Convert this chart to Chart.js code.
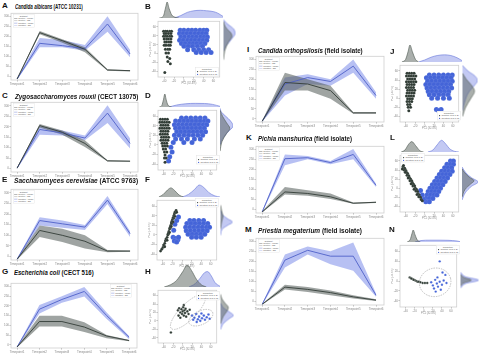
<!DOCTYPE html>
<html><head><meta charset="utf-8">
<script src="https://cdn.jsdelivr.net/npm/chart.js"></script>
<style>
body{margin:0;background:#fff}
#fig{position:relative;width:480px;height:359px;overflow:hidden;background:#fff;font-family:'Liberation Sans',Arial,sans-serif;color:#111}
.lab{position:absolute;font-weight:bold;font-size:8px;line-height:8px}
.ttl{position:absolute;font-weight:bold;font-size:7px;line-height:7px;white-space:nowrap;transform-origin:0 50%}
.leg{position:absolute;background:#fff;border:1px solid #ddd;font-size:6px;line-height:6.4px;color:#555;padding:1px 2px;white-space:nowrap;transform-origin:0 0}
canvas{position:absolute}
</style></head>
<body><div id="fig"></div>
<script>
// ---------- DATA ----------
const xLabels = ['Timepoint1','Timepoint2','Timepoint3','Timepoint4','Timepoint5','Timepoint6'];
const lineYTicks = [5,20,35,50,65,80,95];
const lineYLabels = ['0','50','100','150','200','250','300'];
const lineLegend = ['Dataset','Control - Mean','Control - SD','Treated - Mean','Treated - SD'];
const scatterLegend = ['Condition','Control (PC 1-2)','Treated (PC 1-2)'];
const scatterTicks = [10,26,42,58,74,90];
const scatterTickLabels = ['-40','-20','0','20','40','60'];

// Panel A  Candida albicans
const aGrayMean=[1.5,71,59,46,15,14], aGrayHi=[2.5,73.5,61,49,16,14.7], aGrayLo=[0.5,68.7,56,41.6,13.7,12.8];
const aBlueMean=[1.5,55,51.5,47,84,39], aBlueHi=[2.5,62.8,60,52.5,95.6,45], aBlueLo=[0.5,49,49,44,72.5,34];
// Panel C  Zygosaccharomyces rouxii
const cGrayMean=[5.6,66.6,57,41,16,15.5], cGrayHi=[6.5,69,59.6,45.5,17,16.3], cGrayLo=[4.7,64,53.5,36,15,14.7];
const cBlueMean=[5.6,61,56,48.7,84.5,41], cBlueHi=[6.5,65.6,59.6,52.5,95.8,48], cBlueLo=[4.7,53.5,52.5,45.5,70.4,33.8];
// Panel E  Saccharomyces cerevisiae
const eGrayMean=[1,41.8,34.9,26.5,12.6,12.6], eGrayHi=[2,48.8,44.2,34.9,14,13.5], eGrayLo=[0.5,32.5,25.5,16.3,11,11.6];
const eBlueMean=[1,55.8,51.2,46.5,84.7,37.2], eBlueHi=[2,60.5,55.8,49.4,90.7,40.5], eBlueLo=[0.5,48.8,45.6,42.4,79.1,32.5];
// Panel G  Escherichia coli
const gGrayMean=[1.5,40.9,40.9,32.4,18.5,11.5], gGrayHi=[2.5,49.9,49.9,39.9,20,12.5], gGrayLo=[0.8,33.4,33.4,24.9,15,10.5];
const gBlueMean=[1.5,60,75,87.4,50,16.5], gBlueHi=[2.5,66.4,80,94.4,55,18.5], gBlueLo=[0.8,53.4,70,79.5,45,13.5];
// Panel I  Candida orthopsilosis
const iGrayMean=[1,60.1,57.8,47.8,13.9,13.9], iGrayHi=[2,75,65,55.2,15,15], iGrayLo=[0.5,47.8,47.8,35.4,12.5,12.5];
const iBlueMean=[1,57.8,67.6,61.7,85,40.3], iBlueHi=[2,67.6,72.6,65,95,45.2], iBlueLo=[0.5,40.3,57.8,55.2,75,35.4];
// Panel K  Pichia manshurica
const kGrayMean=[1.5,31.6,29.3,24.3,14.6,16.1], kGrayHi=[2.5,39,34.2,29.3,15.6,17], kGrayLo=[0.8,27.8,25.8,21,13.7,15];
const kBlueMean=[1.5,81.4,82.9,75.6,87.8,41.5], kBlueHi=[2.5,87.8,85.4,78,96,44], kBlueLo=[0.8,71.7,80.5,73.2,80.5,39];
// Panel M  Priestia megaterium
const mGrayMean=[1,26.8,23.4,18.6,12.2,7.3], mGrayHi=[2,30.3,26.8,21.9,14.6,8.8], mGrayLo=[0.5,23.4,19.5,14.6,9.8,5.9];
const mBlueMean=[1,67.3,82,73.2,73.2,14.6], mBlueHi=[2,75.6,87.8,80.5,93.7,17.1], mBlueLo=[0.5,56.1,75.6,61,51.2,12.2];

// Scatter clouds: rows are [y, [x values]]; pairs are [x, y]
function rows(r){const o=[];r.forEach(([y,xs])=>xs.forEach(x=>o.push([x,y])));return o;}
const bGray = rows([[82,[9,12,15,19,22]],[78,[10,13,17,21]],[73,[9,12,15,19,22]],[68,[10,14,17,21]],[63,[11,14,18,21]],[57,[10,13,17,20]],[50,[12,16,19]],[43,[13,17]],[36,[15]],[33,[19]],[28,[16]],[24,[20]],[8,[11]]]);
const bBlue = rows([[84,[36,42,49,55,61,68,74,79]],[78,[35,41,47,53,60,66,72,78]],[72,[37,43,50,56,62,69,75,80]],[66,[35,41,48,54,60,67,73,79]],[60,[38,44,51,57,63,70,76]],[55,[42,49,56,64,72]],[49,[48,58,66,74,82]],[44,[62,70,78,86]]]);
const dGray = rows([[85,[4,8,12,16]],[80,[3,7,11,15,19]],[75,[5,9,13,17]],[70,[3,7,11,15,19]],[65,[5,9,13,17]],[60,[4,8,12,16]],[55,[6,10,14,18]],[50,[5,9,13,17]],[45,[7,11,15]],[40,[8,12,16]],[35,[9,13]],[30,[11,15]],[25,[12]],[20,[11,14]],[13,[12]]]);
const dBlue = rows([[87,[40,48,56,64,72,80]],[82,[30,37,44,51,58,65,72,79,85]],[76,[28,35,42,49,56,63,70,77,83]],[70,[30,37,44,51,58,65,72,79]],[64,[32,39,46,53,60,67,74,81]],[58,[28,36,44,52,60,68,76]],[52,[30,40,50,62,72]],[46,[26,44,58]],[38,[22]],[30,[24]],[22,[20]],[15,[18]]]);
const fGray = [[6,15],[8,18],[10,21],[12,24],[11,25],[13,28],[14,32],[16,34],[15,35],[17,38],[19,43],[18,42],[19,45],[20,48],[22,53],[21,52],[22,55],[23,58],[25,61],[24,62],[25,65],[26,68],[28,70],[27,71],[28,74],[29,77],[31,79],[30,80],[32,83],[13,22],[17,33],[21,46],[24,56],[27,64],[30,73],[33,80]];
const fBlue = rows([[66,[55,62,70,78]],[61,[50,57,64,71,78,85]],[55,[48,55,62,69,76,83,88]],[49,[49,56,63,70,77,84]],[43,[52,59,66,73,80]],[38,[58,66,74]]]).concat([[27,38],[31,36],[35,34],[29,32],[33,30],[36,38],[30,60],[33,66],[36,72],[28,50]]);
const hGray = [[34,62],[36,66],[38,58],[40,64],[41,55],[42,60],[43,68],[44,52],[45,62],[46,57],[47,65],[48,50],[50,60],[52,55],[38,48],[54,63],[22,20],[35,52],[44,72]];
const hBlue = [[58,52],[62,48],[65,55],[68,45],[70,50],[72,42],[75,47],[78,52],[80,44],[83,49],[86,54],[88,46],[66,40],[74,56],[60,44]];
const hEllipses = [[51,59,40,15,45],[73,48,22,13,25]];
const jGray = rows([[86,[12,16,20,24]],[81,[11,15,19,23,27]],[76,[13,17,21,25]],[71,[11,15,19,23,27]],[66,[12,16,20,24]],[61,[11,15,19,23]],[56,[13,17,21,25]],[51,[12,16,20,24]],[46,[11,15,19,23]],[41,[13,17,21]],[36,[12,16,20]],[31,[13,17]],[26,[14,18]],[20,[15]]]);
const jBlue = rows([[83,[50,58,66,74,82,89]],[78,[45,52,59,66,73,80,87]],[72,[47,54,61,68,75,82,89]],[66,[44,51,58,65,72,79,86]],[60,[46,53,60,67,74,81,88]],[54,[48,55,62,69,76,83]],[48,[50,58,66,74,82]],[42,[54,64,74,84]],[22,[62,70]],[20,[66]]]);
const lGray = [[5,80],[8,77],[7,74],[10,73],[11,70],[13,68],[12,65],[15,64],[16,61],[18,58],[17,55],[20,55],[21,52],[23,49],[22,46],[25,46],[26,42],[28,40],[27,37],[30,36],[31,32],[33,30],[32,27],[35,26],[36,22],[38,20],[9,70],[14,60],[19,50],[24,40],[29,31],[4,76],[6,82]];
const lBlue = rows([[90,[86,91]],[84,[80,86,91]],[78,[76,82,88]],[72,[71,77,83,89]],[66,[67,73,79,85]],[60,[63,69,75,81]],[54,[59,65,71,77]],[48,[55,61,67,73]],[42,[51,57,63,69]],[36,[48,54,60,66]],[30,[46,52,58,63]],[24,[44,50,56]],[18,[44,50]]]).concat([[38,30],[35,38],[40,22]]);
const nGray = [[17,48],[19,47],[21,46],[23,45],[25,44],[27,43],[29,42],[31,41],[33,41],[36,40],[40,39],[44,39],[48,39],[20,46],[24,44]];
const nBlue = [[55,40],[58,35],[60,30],[62,44],[65,38],[67,33],[70,41],[72,28],[74,36],[77,43],[80,52],[82,39],[63,25],[70,74],[75,56],[66,48]];
const nEllipses = [[62,40,28,23,15]];

// Marginal KDEs: [position, density]
const bTopGray=[[2,0],[8,10],[12,70],[14,100],[17,60],[21,20],[26,5],[32,0]], bTopBlue=[[25,0],[35,15],[45,35],[55,45],[65,48],[75,45],[85,40],[92,30],[100,10]];
const bRightGray=[[30,0],[45,10],[60,40],[70,70],[76,60],[82,30],[88,10],[95,0]], bRightBlue=[[45,0],[52,15],[58,40],[66,70],[74,95],[82,85],[88,50],[93,20],[98,0]];
const dTopGray=[[2,0],[6,10],[9,60],[11,100],[13,60],[16,15],[22,0]], dTopBlue=[[18,0],[30,15],[45,25],[60,28],[75,27],[88,20],[100,5]];
const dRightGray=[[30,0],[45,15],[58,50],[66,75],[75,50],[85,20],[95,0]], dRightBlue=[[40,0],[50,20],[60,60],[70,100],[78,80],[86,40],[92,10],[98,0]];
const fTopGray=[[3,0],[10,20],[17,55],[22,70],[28,50],[35,15],[42,0]], fTopBlue=[[40,0],[50,20],[60,60],[67,92],[74,75],[82,35],[92,8],[100,0]];
const fRightGray=[[50,0],[62,10],[70,20],[78,10],[88,0]], fRightBlue=[[40,0],[50,15],[56,60],[61,100],[66,60],[72,20],[80,0]];
const hTopGray=[[10,0],[20,10],[30,30],[40,70],[47,100],[54,75],[62,35],[70,10],[78,0]], hTopBlue=[[50,0],[60,15],[68,40],[75,65],[80,70],[86,50],[92,20],[100,3]];
const hRightGray=[[35,0],[48,20],[58,50],[64,60],[72,35],[80,10],[88,0]], hRightBlue=[[25,0],[35,20],[45,70],[50,100],[56,70],[63,25],[72,0]];
const jTopGray=[[3,0],[9,15],[13,60],[16,100],[20,60],[25,15],[30,0]], jTopBlue=[[30,0],[40,12],[50,28],[60,38],[72,42],[82,38],[92,25],[100,8]];
const jRightGray=[[10,0],[25,20],[40,55],[52,80],[62,60],[72,25],[82,0]], jRightBlue=[[20,0],[35,15],[50,40],[62,80],[70,100],[78,80],[85,40],[95,0]];
const lTopGray=[[2,0],[8,15],[14,60],[19,80],[25,50],[32,10],[38,0]], lTopBlue=[[45,0],[53,15],[60,55],[67,90],[74,60],[80,25],[88,5],[95,0]];
const lRightGray=[[25,0],[38,20],[47,55],[52,75],[58,45],[66,15],[72,0]], lRightBlue=[[20,0],[32,20],[43,60],[50,100],[57,60],[65,25],[75,0]];
const nTopGray=[[12,0],[17,20],[20,70],[22,100],[25,60],[29,15],[34,0]], nTopBlue=[[25,0],[35,12],[50,15],[65,15],[80,14],[95,8],[100,3]];
const nRightGray=[[33,0],[38,20],[42,60],[46,20],[51,0]], nRightBlue=[[30,0],[37,30],[42,100],[47,30],[54,0]];

// ---------- RENDER ----------
const fig=document.getElementById('fig');
const tickFont={size:3,family:'Liberation Sans'};
function cv(x,y,w,h){const c=document.createElement('canvas');c.width=w;c.height=h;c.style.left=x+'px';c.style.top=y+'px';c.style.width=w+'px';c.style.height=h+'px';fig.appendChild(c);return c;}
const boxPlugin={id:'box',afterDraw(ch){const a=ch.chartArea,c=ch.ctx;c.save();c.strokeStyle='#cfcfcf';c.lineWidth=0.8;c.strokeRect(a.left,a.top,a.right-a.left,a.bottom-a.top);c.restore();}};
const ellPlugin={id:'ell',afterDatasetsDraw(ch,args,opts){if(!opts||!opts.list)return;const c=ch.ctx,xs=ch.scales.x,ys=ch.scales.y;c.save();c.setLineDash([1.5,1]);c.strokeStyle='#9a9a9a';c.lineWidth=0.6;
 opts.list.forEach(([cx,cy,rx,ry,ang])=>{const px=xs.getPixelForValue(cx),py=ys.getPixelForValue(cy);const sx=Math.abs(xs.getPixelForValue(rx)-xs.getPixelForValue(0));const sy=Math.abs(ys.getPixelForValue(ry)-ys.getPixelForValue(0));c.beginPath();c.ellipse(px,py,sx,sy,-ang*Math.PI/180,0,Math.PI*2);c.stroke();});c.restore();}};
const base={responsive:false,animation:false,events:[],plugins:{legend:{display:false},tooltip:{enabled:false}}};
const T='rgba(0,0,0,0)';

function lineChart(box,g,b){
 const [bx,by,bw,bh]=box,L=7,B=6;
 const c=cv(bx-L,by-1,bw+L+1,bh+B+1);
 const P=a=>a.map((v,i)=>({x:i,y:v}));
 new Chart(c,{type:'line',data:{datasets:[
  {data:P(g.hi),fill:'+1',backgroundColor:'rgba(80,90,85,0.55)',borderColor:T,borderWidth:0.1,pointRadius:0,order:2},
  {data:P(g.lo),fill:false,borderColor:T,borderWidth:0.1,pointRadius:0,order:2},
  {data:P(b.hi),fill:'+1',backgroundColor:'rgba(96,116,228,0.45)',borderColor:T,borderWidth:0.1,pointRadius:0,order:3},
  {data:P(b.lo),fill:false,borderColor:T,borderWidth:0.1,pointRadius:0,order:3},
  {data:P(b.mean),borderColor:'#4f61c8',borderWidth:0.9,pointRadius:0,fill:false,order:1},
  {data:P(g.mean),borderColor:'#333d38',borderWidth:0.9,pointRadius:0,fill:false,order:0}
 ]},plugins:[boxPlugin],options:{...base,layout:{padding:{top:1,right:1,left:0,bottom:0}},scales:{
  x:{type:'linear',min:-0.27,max:5.35,afterBuildTicks:s=>{s.ticks=xLabels.map((_,i)=>({value:i}));},
     ticks:{callback:v=>xLabels[v]||'',font:tickFont,color:'#888',maxRotation:0,autoSkip:false,padding:0.5},
     grid:{drawOnChartArea:false,tickLength:1.5,color:'#bbb'},border:{display:false},afterFit:s=>{s.height=B;}},
  y:{min:0,max:100,afterBuildTicks:s=>{s.ticks=lineYTicks.map(v=>({value:v}));},
     ticks:{callback:(v,i)=>lineYLabels[i],font:tickFont,color:'#888',padding:0.5},
     grid:{drawOnChartArea:false,tickLength:1.5,color:'#bbb'},border:{display:false},afterFit:s=>{s.width=L;}}
 }}});
}

function scatterChart(box,gray,blue,rg,rb,ell,edge){
 const [bx,by,bw,bh]=box,L=9,B=8;
 const c=cv(bx-L,by-1,bw+L+1,bh+B+1);
 const P=a=>a.map(([x,y])=>({x,y}));
 const ec=edge?'rgba(255,255,255,0.7)':'rgba(255,255,255,0.25)';
 new Chart(c,{type:'scatter',data:{datasets:[
  {data:P(gray),backgroundColor:'#2e3a33',borderColor:ec,borderWidth:0.3,pointRadius:rg,order:1},
  {data:P(blue),backgroundColor:'#4464d8',borderColor:ec,borderWidth:0.3,pointRadius:rb,order:2}
 ]},plugins:[boxPlugin,ellPlugin],options:{...base,plugins:{...base.plugins,ell:{list:ell}},layout:{padding:{top:1,right:1}},scales:{
  x:{min:0,max:100,afterBuildTicks:s=>{s.ticks=scatterTicks.map(v=>({value:v}));},
     ticks:{callback:(v,i)=>scatterTickLabels[i],font:tickFont,color:'#888',maxRotation:0,autoSkip:false,padding:0.5},
     title:{display:true,text:'PC1 (32.4%)',font:{size:2.6},color:'#888',padding:0},
     grid:{drawOnChartArea:false,tickLength:1.5,color:'#bbb'},border:{display:false},afterFit:s=>{s.height=B;}},
  y:{min:0,max:100,afterBuildTicks:s=>{s.ticks=scatterTicks.map(v=>({value:v}));},
     ticks:{callback:(v,i)=>scatterTickLabels[i],font:tickFont,color:'#888',padding:0.5},
     title:{display:true,text:'PC2 (18.7%)',font:{size:2.6},color:'#888',padding:0},
     grid:{drawOnChartArea:false,tickLength:1.5,color:'#bbb'},border:{display:false},afterFit:s=>{s.width=L;}}
 }}});
}

// marginal density: drawn horizontally; the right-hand ones are rotated 90deg with a reversed position axis
function marg(x,y,w,h,gray,blue,vertical){
 let c;
 if(!vertical){c=cv(x,y,w,h);}
 else{const cx=x+w/2,cy=y+h/2;c=cv(cx-h/2,cy-w/2,h,w);c.style.transform='rotate(90deg)';}
 const conv=([p,d])=>({x:p,y:d});
 new Chart(c,{type:'line',data:{datasets:[
  {data:gray.map(conv),fill:'origin',cubicInterpolationMode:'monotone',pointRadius:0,borderColor:'#5b655f',borderWidth:0.7,backgroundColor:'rgba(85,95,90,0.5)',order:1},
  {data:blue.map(conv),fill:'origin',cubicInterpolationMode:'monotone',pointRadius:0,borderColor:'#7684de',borderWidth:0.7,backgroundColor:'rgba(112,127,226,0.42)',order:2}
 ]},options:{...base,layout:{padding:0},scales:{x:{type:'linear',display:false,min:0,max:100,reverse:!!vertical},y:{display:false,min:0,max:100}}}});
}

function label(t,x,y){const d=document.createElement('div');d.className='lab';d.textContent=t;d.style.left=x+'px';d.style.top=(y-4)+'px';fig.appendChild(d);}
function title(it,rest,x,y,w){const d=document.createElement('div');d.className='ttl';d.innerHTML='<i>'+it+'</i> '+rest;d.style.left=x+'px';d.style.top=(y-3.5)+'px';fig.appendChild(d);d.style.transform='scaleX('+(w/d.offsetWidth)+')';}
function legendBox(items,colors,mark,x,y,s){const d=document.createElement('div');d.className='leg';d.style.left=x+'px';d.style.top=y+'px';
 let h='<div style="text-align:center">'+items[0]+'</div>';
 for(let i=1;i<items.length;i++){const m=mark==='line'?`<span style="display:inline-block;width:9px;height:0;border-top:1.2px solid ${colors[i-1]};vertical-align:middle;margin-right:2px"></span>`:`<span style="display:inline-block;width:3px;height:3px;border-radius:50%;background:${colors[i-1]};vertical-align:middle;margin:0 3px 0 2px"></span>`;h+='<div>'+m+items[i]+'</div>';}
 d.innerHTML=h;d.style.transform='scale('+s+')';fig.appendChild(d);}

const lineCols=['#444','#888','#4f61c8','#9aa6e6'];
const scCols=['#2e3a33','#4464d8'];
const lines=[
 ['A','Candida albicans','(ATCC 10231)',[11,12,127,68],{mean:aGrayMean,hi:aGrayHi,lo:aGrayLo},{mean:aBlueMean,hi:aBlueHi,lo:aBlueLo},[2,6],[15,6,68],'tl'],
 ['C','Zygosaccharomyces rouxii','(CECT 13075)',[11,101,127,71],{mean:cGrayMean,hi:cGrayHi,lo:cGrayLo},{mean:cBlueMean,hi:cBlueHi,lo:cBlueLo},[2,96],[15,96,123],'tl'],
 ['E','Saccharomyces cerevisiae','(ATCC 9763)',[11,188,127,72],{mean:eGrayMean,hi:eGrayHi,lo:eGrayLo},{mean:eBlueMean,hi:eBlueHi,lo:eBlueLo},[2,180],[14,180,124],'tl'],
 ['G','Escherichia coli','(CECT 516)',[11,282,126,66],{mean:gGrayMean,hi:gGrayHi,lo:gGrayLo},{mean:gBlueMean,hi:gBlueHi,lo:gBlueLo},[2,272],[14,272,80],'tr'],
 ['I','Candida orthopsilosis','(field isolate)',[256,55,128,67],{mean:iGrayMean,hi:iGrayHi,lo:iGrayLo},{mean:iBlueMean,hi:iBlueHi,lo:iBlueLo},[247,50],[258,50,105],'tl'],
 ['K','Pichia manshurica','(field isolate)',[256,145,128,68],{mean:kGrayMean,hi:kGrayHi,lo:kGrayLo},{mean:kBlueMean,hi:kBlueHi,lo:kBlueLo},[246,138],[258,138,94],'tl'],
 ['M','Priestia megaterium','(field isolate)',[256,237,128,68],{mean:mGrayMean,hi:mGrayHi,lo:mGrayLo},{mean:mBlueMean,hi:mBlueHi,lo:mBlueLo},[245,230],[258,230,104],'tl']
];
lines.forEach(([lt,it,rest,box,g,b,lp,tp,lg])=>{
 lineChart(box,g,b);label(lt,lp[0],lp[1]);title(it,rest,tp[0],tp[1],tp[2]);
 const lx=lg==='tl'?box[0]+1.5:box[0]+box[2]-27,ly=box[1]+1.5;
 legendBox(lineLegend,lineCols,'line',lx,ly,0.37);
});

const scat=[
 ['B',[158,18,65,59],bGray,bBlue,1.5,2.5,null,16,12,bTopGray,bTopBlue,bRightGray,bRightBlue,[145,7],[195,66.5],false],
 ['D',[158,107,62,63],dGray,dBlue,1.5,2.5,null,13,13,dTopGray,dTopBlue,dRightGray,dRightBlue,[145,96],[196,155],false],
 ['F',[157,197,63,63],fGray,fBlue,1.4,2.5,null,13,12,fTopGray,fTopBlue,fRightGray,fRightBlue,[145,180],[195,198],false],
 ['H',[158,287,62,56],hGray,hBlue,1.3,1.3,hEllipses,22,13,hTopGray,hTopBlue,hRightGray,hRightBlue,[145,272],[196,291],true],
 ['J',[400,62,62,60],jGray,jBlue,1.5,2.5,null,17,15,jTopGray,jTopBlue,jRightGray,jRightBlue,[390,52],[437,111],false],
 ['L',[400,152,62,60],lGray,lBlue,1.5,2.5,null,13,16,lTopGray,lTopBlue,lRightGray,lRightBlue,[390,138],[401,153],false],
 ['N',[400,242,60,65],nGray,nBlue,1.2,1.2,nEllipses,12,18,nTopGray,nTopBlue,nRightGray,nRightBlue,[389,230],[436,245],true]
];
scat.forEach(([lt,box,g,b,rg,rb,ell,th,rw,tg,tb,rgk,rbk,lp,lg,edge])=>{
 const [bx,by,bw,bh]=box;
 marg(bx,by-th,bw,th,tg,tb,false);
 marg(bx+bw,by,rw,bh,rgk,rbk,true);
 scatterChart(box,g,b,rg,rb,ell,edge);
 label(lt,lp[0],lp[1]);
 legendBox(scatterLegend,scCols,'dot',lg[0],lg[1],0.4);
});
</script></body></html>
